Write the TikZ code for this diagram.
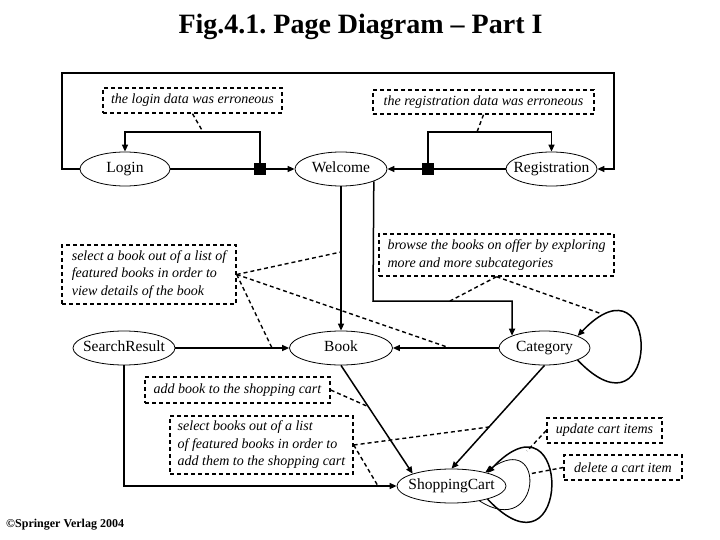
\documentclass[tikz,border=0pt]{standalone}
\usepackage{fontspec}
\setmainfont{Liberation Serif}
\usepackage{tikz}
\usetikzlibrary{shapes.geometric, arrows.meta}
\newcommand{\pagename}[1]{\makebox[0pt]{#1}}
\frenchspacing

\begin{document}
\begin{tikzpicture}[x=1pt, y=-1pt, >={Triangle[length=7pt,width=6pt]},
    page/.style={ellipse, draw, line width=0.8pt, inner sep=0pt, minimum height=34pt, text height=10.5pt, text depth=3.5pt, font=\fontsize{15.5}{18}\selectfont},
    note/.style={draw, line width=1.4pt, dash pattern=on 4pt off 3pt, inner xsep=5pt, inner ysep=2pt, align=left, font=\fontsize{14}{17.5}\selectfont\itshape},
    junction/.style={fill, inner sep=0pt, minimum size=12pt},
    link/.style={->, line width=1.5pt},
    remark/.style={line width=1.4pt, dash pattern=on 4pt off 3pt}]

    \useasboundingbox (0,0) rectangle (720,540);

    \node[font=\fontsize{28}{32}\selectfont\bfseries, anchor=base] (title) at (360.5,33.5) {Fig.4.1. Page Diagram -- Part I};
    \node[font=\fontsize{12}{14}\selectfont\bfseries, anchor=base west, inner sep=0pt] (copyright) at (6,527) {\textcopyright Springer Verlag 2004};

    % pages
    \node[page, minimum width=90pt] (login) at (125,169) {\pagename{Login}};
    \node[page, minimum width=92pt] (welcome) at (341,169) {\pagename{Welcome}};
    \node[page, minimum width=91pt] (registration) at (551.5,169) {\pagename{Registration}};
    \node[page, minimum width=102pt] (search) at (124,348) {\pagename{SearchResult}};
    \node[page, minimum width=103pt] (book) at (341,348) {\pagename{Book}};
    \node[page, minimum width=91pt] (category) at (544.5,348) {\pagename{Category}};
    \node[page, minimum width=109pt] (cart) at (451.5,486) {\pagename{ShoppingCart}};

    \node[junction] (jlogin) at (260,169) {};
    \node[junction] (jreg) at (428,169) {};

    % notes
    \node[note, minimum width=179pt, minimum height=25pt] (nlogin) at (192.5,100.5) {the login data was erroneous};
    \node[note, minimum width=221pt, minimum height=24pt] (nreg) at (483.5,102) {the registration data was erroneous};
    \node[note, minimum width=174pt, minimum height=59pt] (nselbook) at (149,274.5) {select a book out of a list of\\featured books in order to\\view details of the book};
    \node[note, minimum width=235pt, minimum height=42pt] (nbrowse) at (496.5,255) {browse the books on offer by exploring\\more and more subcategories};
    \node[note, minimum width=185pt, minimum height=26pt] (nadd) at (237.5,390) {add book to the shopping cart};
    \node[note, minimum width=183pt, minimum height=58pt] (nselbooks) at (261.5,445) {select books out of a list\\of featured books in order to\\add them to the shopping cart};
    \node[note, minimum width=115pt, minimum height=25pt] (nupdate) at (604.5,430.5) {update cart items};
    \node[note, minimum width=118pt, minimum height=25pt] (ndelete) at (623,467.5) {delete a cart item};

    % bends
    \coordinate (outerL) at (62,73);
    \coordinate (outerR) at (614,73);
    \coordinate (lbend) at (260,132);
    \coordinate (rbend) at (428,132);
    \coordinate (wbend) at (373,301);

    % connectors
    \draw[link] (login) -- (jlogin) -- (welcome);
    \draw[link] (jlogin) -- (lbend) -| (login);
    \draw[link] (login.west) -| (outerL) -- (outerR) |- (registration.east);
    \draw[link] (registration) -- (jreg) -- (welcome);
    \draw[link] (jreg) -- (rbend) -| (registration);
    \draw[link] (welcome) -- (book);
    \draw[link] (welcome.south east) -- (wbend) -| (category.north west);
    \draw[link] (category) -- (book);
    \draw[link] (search) -- (book);
    \draw[link] (category.-20) .. controls +(84,88) and +(84,-88) .. (category.20);
    \draw[link] (search) |- (cart);
    \draw[link] (book.south) -- (cart.north west);
    \draw[link] (category.south) -- (cart.north);
    \draw[link] (cart.-20) .. controls +(85,90) and +(85,-90) .. (cart.20);
    \draw[link, line width=0.8pt] (cart.-28) .. controls +(62,40) and +(62,-44) .. (cart.22);

    % where the notes point to
    \coordinate (clogin) at (203,132);
    \coordinate (creg) at (477,132);
    \coordinate (cwb) at (341,252);
    \coordinate (ccb) at (450,348);
    \coordinate (csb) at (272,348);
    \coordinate (cwc) at (450,301);
    \coordinate (cloop) at (602,314);
    \coordinate (cbc) at (369,407);
    \coordinate (ccc) at (489,427);
    \coordinate (csc) at (378,486);
    \coordinate (cupdate) at (527,451);
    \coordinate (cdelete) at (529,474);

    \draw[remark] (nlogin.south) -- (clogin);
    \draw[remark] (nreg.south) -- (creg);
    \draw[remark] (nselbook.east) -- (cwb);
    \draw[remark] (nselbook.east) -- (ccb);
    \draw[remark] (nselbook.east) -- (csb);
    \draw[remark] (nbrowse.south) -- (cwc);
    \draw[remark] (nbrowse.south) -- (cloop);
    \draw[remark] (nadd.east) -- (cbc);
    \draw[remark] (nselbooks.east) -- (ccc);
    \draw[remark] (nselbooks.east) -- (csc);
    \draw[remark] (nupdate.west) -- (cupdate);
    \draw[remark] (ndelete.west) -- (cdelete);

\end{tikzpicture}
\end{document}
